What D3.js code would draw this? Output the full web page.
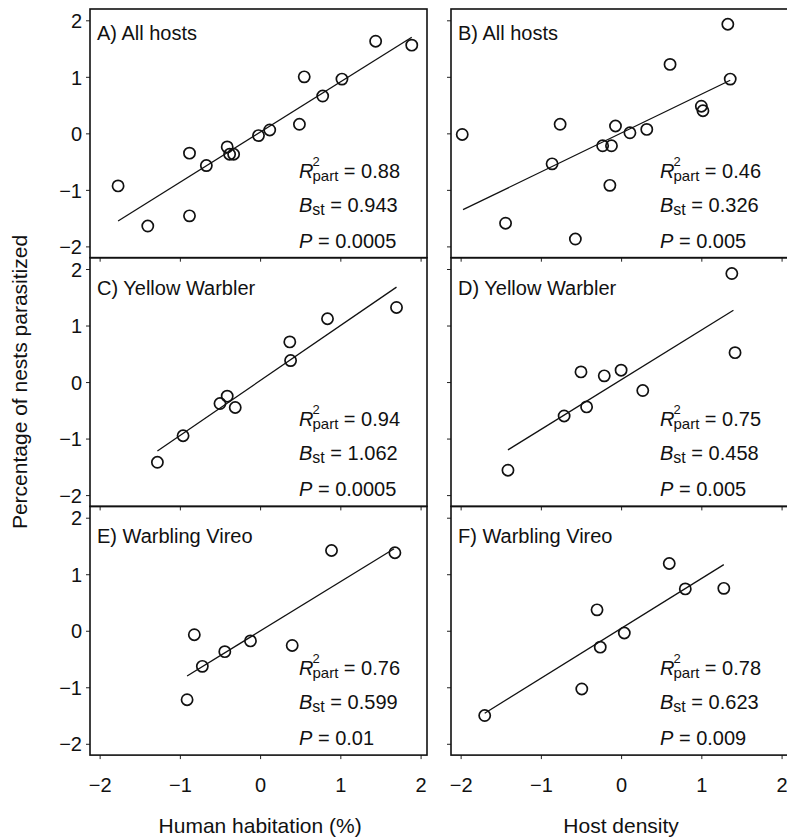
<!DOCTYPE html>
<html>
<head>
<meta charset="utf-8">
<script src="https://cdn.jsdelivr.net/npm/d3@7"></script>
<style>
  body { margin: 0; background: #fff; }
  svg text { font-family: "Liberation Sans", Arial, sans-serif; fill: #111; white-space: pre; }
</style>
</head>
<body>
<div id="chart"></div>
<script>
// ---- data ----
const xTicks = [-2, -1, 0, 1, 2];
const yTicks = [-2, -1, 0, 1, 2];
const xTitles = ["Human habitation (%)", "Host density"];
const yTitle = "Percentage of nests parasitized";

const panelLabels = ["A) All hosts", "B) All hosts", "C) Yellow Warbler", "D) Yellow Warbler", "E) Warbling Vireo", "F) Warbling Vireo"];
const r2Values = ["0.88", "0.46", "0.94", "0.75", "0.76", "0.78"];
const bstValues = ["0.943", "0.326", "1.062", "0.458", "0.599", "0.623"];
const pValues = ["0.0005", "0.005", "0.0005", "0.005", "0.01", "0.009"];

const aX = [-1.77, -1.40, -0.88, -0.88, -0.67, -0.41, -0.38, -0.33, -0.02, 0.12, 0.49, 0.55, 0.78, 1.02, 1.44, 1.89];
const aY = [-0.93, -1.64, -0.35, -1.46, -0.57, -0.24, -0.37, -0.37, -0.04, 0.06, 0.16, 1.00, 0.66, 0.96, 1.63, 1.56];
const aLine = [[-1.77, -1.55], [1.89, 1.70]];

const bX = [-1.98, -1.44, -0.86, -0.76, -0.57, -0.23, -0.12, -0.14, -0.07, 0.11, 0.32, 0.61, 1.00, 1.02, 1.33, 1.36];
const bY = [-0.02, -1.59, -0.54, 0.16, -1.87, -0.22, -0.22, -0.92, 0.13, 0.01, 0.07, 1.22, 0.48, 0.40, 1.93, 0.96];
const bLine = [[-1.97, -1.35], [1.36, 0.94]];

const cX = [-1.28, -0.96, -0.50, -0.41, -0.31, 0.38, 0.37, 0.84, 1.70];
const cY = [-1.42, -0.95, -0.38, -0.25, -0.45, 0.38, 0.71, 1.12, 1.32];
const cLine = [[-1.28, -1.22], [1.70, 1.68]];

const dX = [-1.41, -0.71, -0.43, -0.50, -0.21, 0.00, 0.27, 1.38, 1.42];
const dY = [-1.56, -0.60, -0.44, 0.18, 0.11, 0.21, -0.15, 1.92, 0.52];
const dLine = [[-1.41, -1.20], [1.40, 1.27]];

const eX = [-0.91, -0.82, -0.72, -0.44, -0.12, 0.40, 0.89, 1.68];
const eY = [-1.22, -0.07, -0.63, -0.37, -0.18, -0.26, 1.42, 1.38];
const eLine = [[-0.91, -0.80], [1.67, 1.45]];

const fX = [-1.70, -0.49, -0.30, -0.26, 0.04, 0.60, 0.80, 1.28];
const fY = [-1.50, -1.03, 0.37, -0.29, -0.04, 1.19, 0.74, 0.75];
const fLine = [[-1.70, -1.46], [1.28, 1.17]];

const panelXs = [aX, bX, cX, dX, eX, fX];
const panelYs = [aY, bY, cY, dY, eY, fY];
const panelLines = [aLine, bLine, cLine, dLine, eLine, fLine];

// ---- layout ----
const W = 787, H = 837;
const colLeft = [90, 451];
const panelW = 337;
const top0 = 9, panelH = 248.7;
const minus = d => d < 0 ? "\u2212" + Math.abs(d) : String(d);

const svg = d3.select("#chart").append("svg")
  .attr("width", W).attr("height", H);

panelLabels.forEach((label, i) => {
  const col = i % 2, row = Math.floor(i / 2);
  const left = colLeft[col];
  const top = top0 + row * panelH;
  const bottom = top + panelH;

  const x = d3.scaleLinear().domain([-2.12, 2.08]).range([left, left + panelW]);
  const y = d3.scaleLinear().domain([-2.2, 2.2]).range([bottom, top]);

  const g = svg.append("g");

  // y ticks (outward), labels only in the left column
  const yAxis = d3.axisLeft(y).tickValues(yTicks).tickSize(4)
    .tickFormat(col === 0 ? minus : "");
  const ya = g.append("g").attr("transform", `translate(${left},0)`).call(yAxis);
  ya.select(".domain").remove();
  ya.selectAll("line").attr("stroke", "#222").attr("stroke-width", 1);
  ya.selectAll("text").attr("font-size", 20).attr("x", -8).attr("dy", "0.36em")
    .style("font-family", "'Liberation Sans', Arial, sans-serif").attr("fill", "#111");

  // x ticks on the bottom edge, labels only on the bottom row
  const xAxis = d3.axisBottom(x).tickValues(xTicks).tickSize(4)
    .tickFormat(row === 2 ? minus : "");
  const xa = g.append("g").attr("transform", `translate(0,${bottom})`).call(xAxis);
  xa.select(".domain").remove();
  xa.selectAll("line").attr("stroke", "#222").attr("stroke-width", 1);
  xa.selectAll("text").attr("font-size", 20).attr("y", 23).attr("dy", "0.71em")
    .style("font-family", "'Liberation Sans', Arial, sans-serif").attr("fill", "#111");

  // frame
  g.append("rect")
    .attr("x", left).attr("y", top)
    .attr("width", panelW).attr("height", panelH)
    .attr("fill", "none").attr("stroke", "#111").attr("stroke-width", 1.6);

  // regression line
  const ln = panelLines[i];
  g.append("line")
    .attr("x1", x(ln[0][0])).attr("y1", y(ln[0][1]))
    .attr("x2", x(ln[1][0])).attr("y2", y(ln[1][1]))
    .attr("stroke", "#111").attr("stroke-width", 1.3);

  // points
  const pts = panelXs[i].map((v, k) => [v, panelYs[i][k]]);
  g.selectAll("circle.pt").data(pts).join("circle")
    .attr("class", "pt")
    .attr("cx", d => x(d[0])).attr("cy", d => y(d[1]))
    .attr("r", 5.6)
    .attr("fill", "none").attr("stroke", "#111").attr("stroke-width", 1.7);

  // panel label
  g.append("text")
    .attr("x", left + 7).attr("y", top + (row === 0 ? 31 : 37))
    .attr("font-size", 20)
    .text(label);

  // stats block
  const sx = left + 209;
  const fs = 20;
  const yR = bottom - 80, yB = bottom - 46, yP = bottom - 10;
  // R^2 part : superscript 2 stacked over subscript "part"
  const rT = g.append("text").attr("x", sx).attr("y", yR)
    .attr("font-size", fs).attr("font-style", "italic").text("R");
  const rW = rT.node().getComputedTextLength();
  g.append("text").attr("x", sx + rW - 1).attr("y", yR - 12)
    .attr("font-size", 13).text("2");
  const pt = g.append("text").attr("x", sx + rW - 1).attr("y", yR + 3)
    .attr("font-size", 15).text("part");
  const ptW = pt.node().getComputedTextLength();
  g.append("text").attr("x", sx + rW - 1 + ptW).attr("y", yR)
    .attr("font-size", fs).text(" = " + r2Values[i]);

  // B_st
  const bT = g.append("text").attr("x", sx).attr("y", yB)
    .attr("font-size", fs).attr("font-style", "italic").text("B");
  const bW = bT.node().getComputedTextLength();
  const st = g.append("text").attr("x", sx + bW).attr("y", yB + 3)
    .attr("font-size", 16).text("st");
  const stW = st.node().getComputedTextLength();
  g.append("text").attr("x", sx + bW + stW).attr("y", yB)
    .attr("font-size", fs).text(" = " + bstValues[i]);

  // P
  const pT = g.append("text").attr("x", sx).attr("y", yP)
    .attr("font-size", fs).attr("font-style", "italic").text("P");
  const pW = pT.node().getComputedTextLength();
  g.append("text").attr("x", sx + pW).attr("y", yP)
    .attr("font-size", fs).text(" = " + pValues[i]);

  // x axis title under the bottom row
  if (row === 2) {
    svg.append("text")
      .attr("x", x(0)).attr("y", 833)
      .attr("text-anchor", "middle").attr("font-size", 21)
      .text(xTitles[col]);
  }
});

// y axis title
svg.append("text")
  .attr("transform", "translate(27,382) rotate(-90)")
  .attr("text-anchor", "middle").attr("font-size", 21)
  .text(yTitle);
</script>
</body>
</html>
